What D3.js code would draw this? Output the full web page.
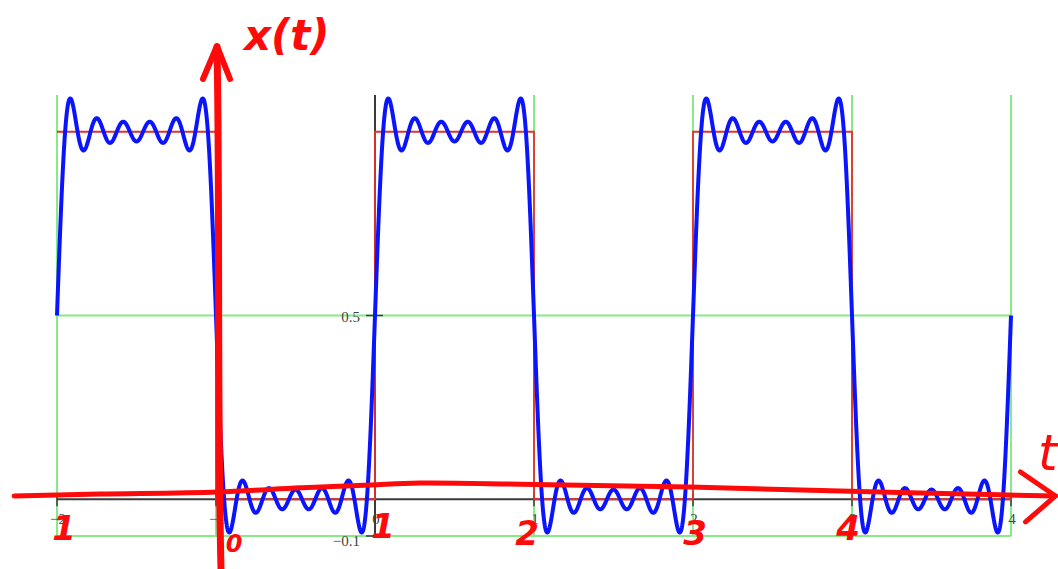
<!DOCTYPE html>
<html>
<head>
<meta charset="utf-8">
<script src="https://cdn.jsdelivr.net/npm/d3@7"></script>
<style>
  body { margin: 0; background: #fff; }
  svg { display: block; }
</style>
</head>
<body>
<div id="chart"></div>
<script>
// data
var tTicks = [-2, -1, 0, 1, 2, 3, 4];
var yTicks = [-0.1, 0.5];
var squareEdges = [-2, -1, 0, 1, 2, 3, 4];
var squareLevels = [1, 0, 1, 0, 1, 0];
// fourier partial sum of the square wave (odd harmonics up to 11)
var harmonics = [1, 3, 5, 7, 9, 11];
var amplitudes = [0.6366, 0.2122, 0.1273, 0.0909, 0.0707, 0.0579];
var dcLevel = 0.5;

// hand-drawn annotations (red pen)
var penAxisT = [[-2.27, 0.009], [-1.73, 0.014], [-0.99, 0.02], [-0.47, 0.031], [-0.03, 0.039],
                [0.28, 0.044], [0.91, 0.041], [1.98, 0.033], [2.99, 0.022], [3.93, 0.012], [4.28, 0.009]];
var penLabelT = [-2, -1, 0, 1, 2, 3];
var penLabels = ["1", "0", "1", "2", "3", "4"];

// manual layout
var W = 1058, H = 569;
var x = d3.scaleLinear().domain([-2, 4]).range([57, 1011]);
var y = d3.scaleLinear().domain([-0.1, 1.1]).range([536, 95]);

var svg = d3.select("#chart").append("svg")
    .attr("width", W)
    .attr("height", H);

// green grid
svg.append("g").selectAll("line")
    .data(tTicks)
  .enter().append("line")
    .attr("x1", function(d) { return x(d); })
    .attr("x2", function(d) { return x(d); })
    .attr("y1", y(-0.1))
    .attr("y2", y(1.1))
    .attr("stroke", "#86ea86")
    .attr("stroke-width", 2);

svg.append("g").selectAll("line")
    .data(yTicks)
  .enter().append("line")
    .attr("x1", x(-2))
    .attr("x2", x(4))
    .attr("y1", function(d) { return y(d); })
    .attr("y2", function(d) { return y(d); })
    .attr("stroke", "#86ea86")
    .attr("stroke-width", 2);

// black axes through the origin
var axisCol = "#3a3a3a";
svg.append("line")
    .attr("x1", x(-2)).attr("x2", x(4))
    .attr("y1", y(0)).attr("y2", y(0))
    .attr("stroke", axisCol).attr("stroke-width", 2);
svg.append("line")
    .attr("x1", x(0)).attr("x2", x(0))
    .attr("y1", y(-0.1)).attr("y2", y(1.1))
    .attr("stroke", axisCol).attr("stroke-width", 2);

svg.append("g").selectAll("line")
    .data(tTicks)
  .enter().append("line")
    .attr("x1", function(d) { return x(d); })
    .attr("x2", function(d) { return x(d); })
    .attr("y1", y(0) - 6)
    .attr("y2", y(0) + 7)
    .attr("stroke", axisCol).attr("stroke-width", 1.5);

svg.append("g").selectAll("line")
    .data(yTicks)
  .enter().append("line")
    .attr("x1", x(0) - 9)
    .attr("x2", x(0) + 8)
    .attr("y1", function(d) { return y(d); })
    .attr("y2", function(d) { return y(d); })
    .attr("stroke", axisCol).attr("stroke-width", 1.5);

svg.append("g").selectAll("text")
    .data(tTicks)
  .enter().append("text")
    .attr("x", function(d) { return x(d) + 1; })
    .attr("y", y(0) + 25)
    .attr("text-anchor", "middle")
    .attr("font-family", "Liberation Serif")
    .attr("font-size", 15)
    .attr("fill", "#444")
    .text(function(d) { return d < 0 ? "\u2212" + (-d) : d; });

svg.append("g").selectAll("text")
    .data(yTicks)
  .enter().append("text")
    .attr("x", x(0) - 15)
    .attr("y", function(d) { return y(d) + (d < 0 ? 10 : 6); })
    .attr("text-anchor", "end")
    .attr("font-family", "Liberation Serif")
    .attr("font-size", 15)
    .attr("fill", "#444")
    .text(function(d) { return d < 0 ? "\u22120.1" : d; });

// red square wave
var squarePts = squareLevels.map(function(v, i) { return [squareEdges[i], v]; });
squarePts.push([squareEdges[squareEdges.length - 1], squareLevels[squareLevels.length - 1]]);
var stepLine = d3.line()
    .x(function(d) { return x(d[0]); })
    .y(function(d) { return y(d[1]); })
    .curve(d3.curveStepAfter);
svg.append("path")
    .attr("d", stepLine(squarePts))
    .attr("fill", "none")
    .attr("stroke", "#e5302a")
    .attr("stroke-width", 1.8);

// blue partial sum
var ts = d3.range(-2, 4.0001, 0.002);
var partial = ts.map(function(t) {
  var s = dcLevel;
  harmonics.forEach(function(k, i) { s += amplitudes[i] * Math.sin(Math.PI * k * t); });
  return [t, s];
});
var line = d3.line()
    .x(function(d) { return x(d[0]); })
    .y(function(d) { return y(d[1]); });
svg.append("path")
    .attr("d", line(partial))
    .attr("fill", "none")
    .attr("stroke", "#0a14ff")
    .attr("stroke-width", 4)
    .attr("stroke-linejoin", "round");

// red pen annotations
var pen = "#ff0a0a";
var pg = svg.append("g")
    .attr("fill", "none")
    .attr("stroke", pen)
    .attr("stroke-linecap", "round")
    .attr("stroke-linejoin", "round");

// pen t axis with arrow
var penLine = d3.line()
    .x(function(d) { return x(d[0]); })
    .y(function(d) { return y(d[1]); })
    .curve(d3.curveCatmullRom);
pg.append("path")
    .attr("d", penLine(penAxisT))
    .attr("stroke-width", 5);
var tip = penAxisT[penAxisT.length - 1];
var tx = x(tip[0]), ty = y(tip[1]);
pg.append("path")
    .attr("d", "M" + (tx - 35) + "," + (ty - 24) + "L" + tx + "," + ty + "L" + (tx - 30) + "," + (ty + 26))
    .attr("stroke-width", 5);

// pen x(t) axis with arrow, drawn at t = -1
var vx = x(-1);
pg.append("path")
    .attr("d", "M" + (vx + 5) + "," + H + "C" + (vx + 1) + ",400 " + (vx + 4) + ",200 " + (vx + 1) + ",47")
    .attr("stroke-width", 7);
pg.append("path")
    .attr("d", "M" + (vx - 13) + ",79L" + (vx + 1) + ",46L" + (vx + 14) + ",79")
    .attr("stroke-width", 6);

svg.append("text")
    .attr("x", 244)
    .attr("y", 50)
    .attr("font-family", "DejaVu Sans")
    .attr("font-weight", "bold")
    .attr("font-style", "italic")
    .attr("font-size", 42)
    .attr("fill", pen)
    .text("x(t)");

svg.append("text")
    .attr("x", 1038)
    .attr("y", 470)
    .attr("font-family", "DejaVu Sans")
    .attr("font-style", "italic")
    .attr("font-size", 50)
    .attr("fill", pen)
    .text("t");

// pen numbers under the t axis
var penNudge = [[7, 540], [18, 552], [8, 538], [-7, 545], [2, 545], [-4, 540]];
svg.append("g").selectAll("text")
    .data(penLabels)
  .enter().append("text")
    .attr("x", function(d, i) { return x(penLabelT[i]) + penNudge[i][0]; })
    .attr("y", function(d, i) { return penNudge[i][1]; })
    .attr("text-anchor", "middle")
    .attr("font-family", "DejaVu Sans")
    .attr("font-weight", "bold")
    .attr("font-style", "italic")
    .attr("font-size", function(d, i) { return i === 1 ? 24 : 34; })
    .attr("fill", pen)
    .text(function(d) { return d; });
</script>
</body>
</html>
